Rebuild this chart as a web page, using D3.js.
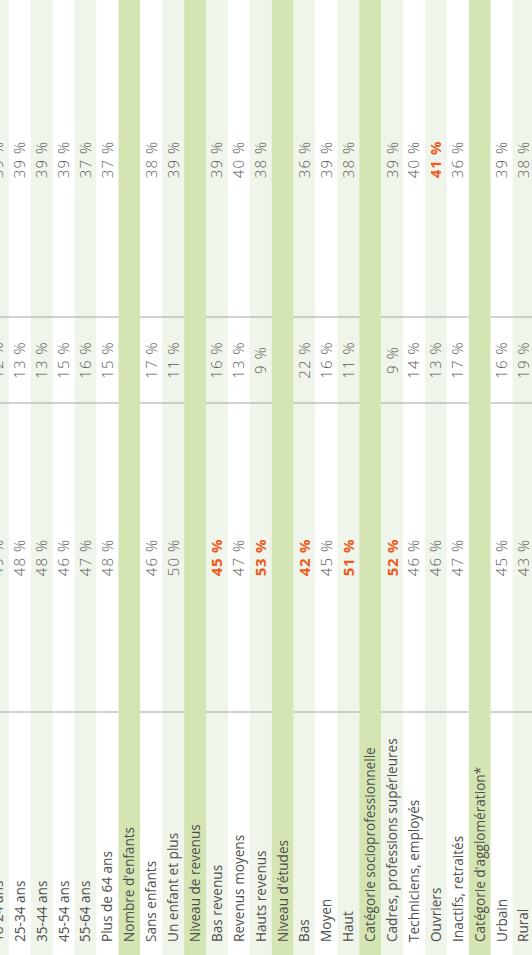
<!DOCTYPE html>
<html><head><meta charset="utf-8">
<script src="https://cdn.jsdelivr.net/npm/d3@7/dist/d3.min.js"></script>
<style>html,body{margin:0;padding:0;background:#fff;overflow:hidden}</style>
</head><body>
<svg id="chart" width="532" height="955"></svg>
<script>
const labels = ["18-24 ans","25-34 ans","35-44 ans","45-54 ans","55-64 ans","Plus de 64 ans",
  "Nombre d'enfants","Sans enfants","Un enfant et plus",
  "Niveau de revenus","Bas revenus","Revenus moyens","Hauts revenus",
  "Niveau d'études","Bas","Moyen","Haut",
  "Catégorie socioprofessionnelle","Cadres, professions supérieures","Techniciens, employés","Ouvriers","Inactifs, retraités",
  "Catégorie d'agglomération*","Urbain","Rural"];
const headers = [6, 9, 13, 17, 22];
const colA = [49,48,48,46,47,48,null,46,50,null,45,47,53,null,42,45,51,null,52,46,46,47,null,45,43];
const colB = [12,13,13,15,16,15,null,17,11,null,16,13,9,null,22,16,11,null,9,14,13,17,null,16,19];
const colC = [39,39,39,39,37,37,null,38,39,null,39,40,38,null,36,39,38,null,39,40,41,36,null,39,38];
const highlightA = [10,12,14,16,18];
const highlightC = [20];

const W = 532, H = 955;
const svg = d3.select("#chart");
const g = svg.append("g").attr("transform", `translate(0,${H}) rotate(-90)`);

const y = d3.scaleBand().domain(d3.range(labels.length)).range([-13, -13 + labels.length * 21.9]).padding(0);
const colEdges = [0, 243, 552, 638, 955];

const rows = g.selectAll("g.row").data(labels.map((l, i) => ({l, i}))).join("g").attr("class", "row");
rows.append("rect")
  .attr("x", 0).attr("width", H)
  .attr("y", d => y(d.i)).attr("height", y.bandwidth())
  .attr("fill", d => headers.includes(d.i) ? "#d4e4b3" : (d.i % 2 === 0 ? "#eff5ea" : "#ffffff"));

const nonHeader = d3.range(labels.length).filter(i => !headers.includes(i));
[colEdges[1], colEdges[2], colEdges[3]].forEach(xe => {
  g.selectAll(null).data(nonHeader).join("line")
    .attr("x1", xe).attr("x2", xe)
    .attr("y1", i => y(i)).attr("y2", i => y(i) + y.bandwidth())
    .attr("stroke", "#a3a3a3").attr("stroke-width", 1);
});

rows.append("text")
  .attr("x", 13)
  .attr("y", d => y(d.i) + y.bandwidth() / 2)
  .attr("dy", "0.36em")
  .attr("font-family", "'Open Sans', sans-serif")
  .attr("font-size", 13.6)
  .attr("fill", "#4f4f4f")
  .text(d => d.l);

const cols = [
  {vals: colA, c: (colEdges[1] + colEdges[2]) / 2, hl: highlightA},
  {vals: colB, c: (colEdges[2] + colEdges[3]) / 2, hl: []},
  {vals: colC, c: 795.5, hl: highlightC}
];
cols.forEach(col => {
  g.selectAll(null).data(col.vals.map((v, i) => ({v, i})).filter(d => d.v !== null)).join("text")
    .attr("x", col.c)
    .attr("y", d => y(d.i) + y.bandwidth() / 2)
    .attr("dy", "0.36em")
    .attr("text-anchor", "middle")
    .attr("font-family", "'Open Sans', sans-serif")
    .attr("font-size", 15)
    .attr("letter-spacing", d => col.hl.includes(d.i) ? 0.7 : 1.1)
    .attr("font-weight", d => col.hl.includes(d.i) ? 700 : 300)
    .attr("fill", d => col.hl.includes(d.i) ? "#f05a1e" : "#5c5c5c")
    .text(d => d.v + " %");
});
</script>
</body></html>
